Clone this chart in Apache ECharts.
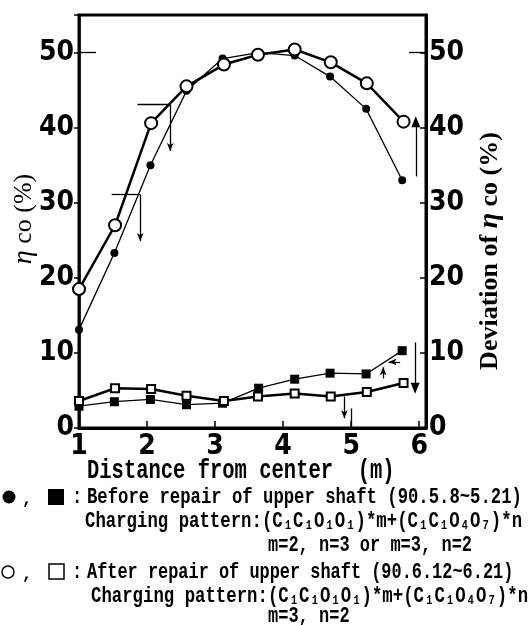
<!DOCTYPE html>
<html>
<head>
<meta charset="utf-8">
<script src="https://cdn.jsdelivr.net/npm/echarts@6/dist/echarts.min.js"></script>
<style>
html,body{margin:0;padding:0;background:#fff;}
#c{width:532px;height:625px;}
</style>
</head>
<body>
<div id="c"></div>
<script>
// ---- data ----
const xBefore   = [1.0, 1.52, 2.05, 2.58, 3.11, 3.64, 4.17, 4.69, 5.22, 5.75];
const xAfter    = [1.0, 1.53, 2.06, 2.58, 3.13, 3.63, 4.17, 4.70, 5.23, 5.77];
const etaBefore = [13.1, 23.3, 35.0, 44.9, 49.2, 50.0, 49.6, 46.8, 42.5, 33.0];
const etaAfter  = [18.5, 27.0, 40.6, 45.5, 48.4, 49.7, 50.4, 48.7, 45.9, 40.8];
const devBefore = [2.9, 3.5, 3.8, 3.1, 3.3, 5.3, 6.5, 7.3, 7.2, 10.3];
const devAfter  = [3.6, 5.3, 5.2, 4.3, 3.6, 4.2, 4.6, 4.2, 4.8, 6.0];
const xTicks = [1, 2, 3, 4, 5, 6];
const yTicks = [0, 10, 20, 30, 40, 50];
// annotation segments: [x1, y1, x2, y2, head]
const annotations = [
  [1.86, 43.1, 2.34, 43.1, 'none'],
  [2.34, 43.1, 2.34, 36.9, 'small'],
  [1.48, 31.1, 1.90, 31.1, 'none'],
  [1.90, 31.1, 1.90, 24.9, 'small'],
  [5.95, 33.5, 5.95, 40.8, 'big'],
  [5.94, 11.4, 5.94, 5.3, 'big'],
  [5.47, 6.6, 5.47, 8.1, 'small'],
  [5.72, 8.8, 5.55, 8.8, 'small'],
  [4.90, 4.2, 4.90, 1.3, 'small'],
  [5.0, 0, 5.0, 2.6, 'none'],
  [1.0, 50, 1.25, 50, 'none'],
  [5.85, 50, 6.1, 50, 'none']
];
const legendLines = [
  {t: 'Before repair of upper shaft (90.5.8~5.21)', x: 87, y: 497, sx: 1.015},
  {t: 'Charging pattern:(C\u2081C\u2081O\u2081O\u2081)*m+(C\u2081C\u2081O\u2084O\u2087)*n', x: 85, y: 521, sx: 1.02},
  {t: 'm=2, n=3 or m=3, n=2', x: 268, y: 545, sx: 1.0},
  {t: 'After repair of upper shaft (90.6.12~6.21)', x: 87, y: 572, sx: 0.995},
  {t: 'Charging pattern:(C\u2081C\u2081O\u2081O\u2081)*m+(C\u2081C\u2081O\u2084O\u2087)*n', x: 91, y: 596, sx: 1.02},
  {t: 'm=3, n=2', x: 268, y: 616, sx: 1.0}
];

const zip = (xs, ys) => xs.map((x, i) => [x, ys[i]]);
const numFont = '"Liberation Sans Narrow","DejaVu Sans Condensed",sans-serif';
const monoFont = '"Liberation Mono","DejaVu Sans Mono",monospace';

const markData = annotations.map(a => {
  const head = a[4];
  return [
    {coord: [a[0], a[1]], symbol: 'none'},
    {coord: [a[2], a[3]],
     symbol: head === 'none' ? 'none' : (head === 'big' ? 'triangle' : 'arrow'),
     symbolSize: head === 'big' ? [9, 11] : [5, 8]}
  ];
});

const chart = echarts.init(document.getElementById('c'), null, {renderer: 'canvas'});
const tickFmt = v => (yTicks.indexOf(v) >= 0 ? String(v) : '');
const xFmt = v => (xTicks.indexOf(v) >= 0 ? String(v) : '');

const graphics = [
  {type: 'text', x: 24, y: 219, rotation: Math.PI / 2,
   style: {text: '{i|\u03b7} co (%)', align: 'center', verticalAlign: 'middle',
           font: '26px "Liberation Serif", serif', fill: '#000',
           rich: {i: {fontStyle: 'italic', fontSize: 28, fontFamily: '"Liberation Serif", serif'}}}},
  {type: 'text', x: 490, y: 251, rotation: Math.PI / 2,
   style: {text: 'Deviation of {i|\u03b7} co (%)', align: 'center', verticalAlign: 'middle',
           font: 'bold 26px "Liberation Serif", serif', fill: '#000',
           rich: {i: {fontStyle: 'italic', fontWeight: 'bold', fontSize: 28, fontFamily: '"Liberation Serif", serif'}}}},
  {type: 'text', x: 87, y: 471, scaleY: 1.35,
   style: {text: 'Distance from center  (m)', verticalAlign: 'middle',
           font: 'bold 20.5px ' + monoFont, fill: '#000'}},
  // legend symbols
  {type: 'circle', shape: {cx: 9, cy: 497, r: 6.5}, style: {fill: '#000'}},
  {type: 'text', x: 22, y: 500, style: {text: ',', verticalAlign: 'middle', font: 'bold 17px ' + monoFont, fill: '#000'}},
  {type: 'rect', shape: {x: 48, y: 489, width: 16, height: 16}, style: {fill: '#000'}},
  {type: 'text', x: 72, y: 497, scaleY: 1.3, style: {text: ':', verticalAlign: 'middle', font: 'bold 17px ' + monoFont, fill: '#000'}},
  {type: 'circle', shape: {cx: 8, cy: 572, r: 6}, style: {fill: '#fff', stroke: '#000', lineWidth: 1.5}},
  {type: 'text', x: 22, y: 575, style: {text: ',', verticalAlign: 'middle', font: 'bold 17px ' + monoFont, fill: '#000'}},
  {type: 'rect', shape: {x: 49, y: 564, width: 15, height: 15}, style: {fill: '#fff', stroke: '#000', lineWidth: 1.5}},
  {type: 'text', x: 72, y: 572, scaleY: 1.3, style: {text: ':', verticalAlign: 'middle', font: 'bold 17px ' + monoFont, fill: '#000'}}
];
legendLines.forEach(l => {
  graphics.push({type: 'text', x: l.x, y: l.y, scaleX: l.sx, scaleY: 1.3,
    style: {text: l.t, verticalAlign: 'middle', font: 'bold 17px ' + monoFont, fill: '#000'}});
});

chart.setOption({
  animation: false,
  backgroundColor: '#fff',
  grid: {left: 79, right: 106, top: 15, bottom: 197, show: true, borderColor: '#000', borderWidth: 3, backgroundColor: 'transparent'},
  xAxis: {
    type: 'value', min: 1, max: 6.1, interval: 1,
    axisLine: {lineStyle: {color: '#000', width: 3}},
    axisTick: {inside: true, length: 7, lineStyle: {color: '#000', width: 1.5}},
    axisLabel: {formatter: xFmt, color: '#000', fontFamily: numFont, fontWeight: 'bold', fontSize: 28, margin: 5},
    splitLine: {show: false}
  },
  yAxis: [
    {type: 'value', position: 'left', min: 0, max: 55, interval: 10,
     axisLine: {show: true, lineStyle: {color: '#000', width: 2.5}},
     axisTick: {show: true, inside: false, length: 5, lineStyle: {color: '#000', width: 1.5}},
     axisLabel: {formatter: tickFmt, color: '#000', fontFamily: numFont, fontWeight: 'bold', fontSize: 28, margin: 5},
     splitLine: {show: false}},
    {type: 'value', position: 'right', min: 0, max: 55, interval: 10,
     axisLine: {show: true, lineStyle: {color: '#000', width: 3}},
     axisTick: {show: true, inside: true, length: 6, lineStyle: {color: '#000', width: 1.5}},
     axisLabel: {formatter: tickFmt, color: '#000', fontFamily: numFont, fontWeight: 'bold', fontSize: 28, margin: 3},
     splitLine: {show: false}}
  ],
  graphic: graphics,
  series: [
    {type: 'line', yAxisIndex: 0, data: zip(xBefore, etaBefore), symbol: 'circle', symbolSize: 8,
     itemStyle: {color: '#000'}, lineStyle: {color: '#000', width: 1.3}, z: 3},
    {type: 'line', yAxisIndex: 0, data: zip(xAfter, etaAfter), symbol: 'emptyCircle', symbolSize: 12,
     itemStyle: {color: '#000', borderWidth: 1.5}, lineStyle: {color: '#000', width: 2.5}, z: 4},
    {type: 'line', yAxisIndex: 1, data: zip(xBefore, devBefore), symbol: 'rect', symbolSize: 9,
     itemStyle: {color: '#000'}, lineStyle: {color: '#000', width: 1.3}, z: 3},
    {type: 'line', yAxisIndex: 1, data: zip(xAfter, devAfter), symbol: 'emptyRect', symbolSize: 8,
     itemStyle: {color: '#000', borderWidth: 1.5}, lineStyle: {color: '#000', width: 2.5}, z: 4},
    {type: 'line', yAxisIndex: 0, data: [], silent: true,
     markLine: {silent: true, animation: false, symbol: ['none', 'none'],
       label: {show: false}, lineStyle: {color: '#000', width: 1.3, type: 'solid'},
       emphasis: {disabled: true}, data: markData}}
  ]
});
</script>
</body>
</html>
